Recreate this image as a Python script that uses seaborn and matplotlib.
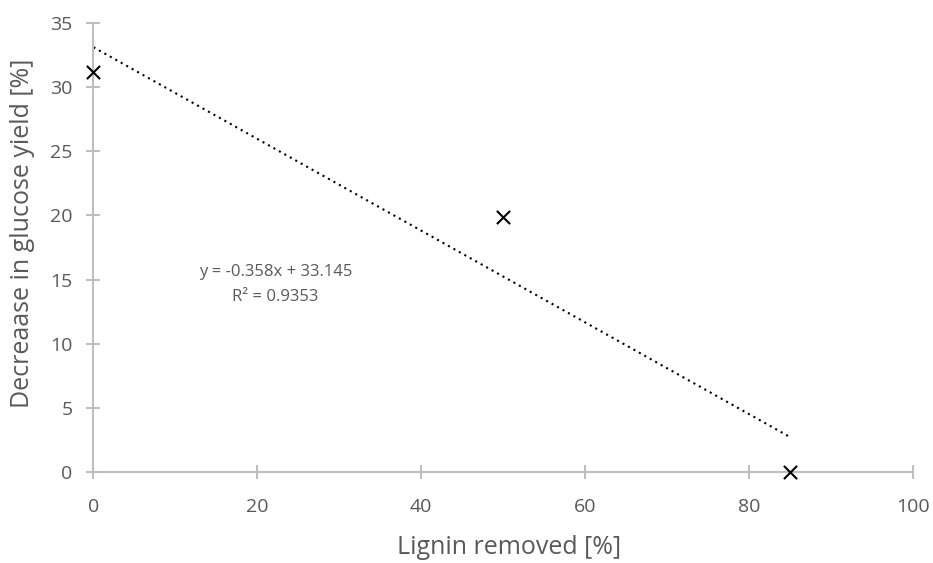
import pandas as pd
import matplotlib
matplotlib.use("Agg")
import matplotlib.pyplot as plt
import seaborn as sns

# Data
lignin_removed = [0, 50, 85]
glucose_decrease = [31.2, 19.9, 0.0]
x_ticks = [0, 20, 40, 60, 80, 100]
y_ticks = [0, 5, 10, 15, 20, 25, 30, 35]

df = pd.DataFrame({"lignin": lignin_removed, "decrease": glucose_decrease})

sns.set_style("white")
plt.rcParams["font.family"] = ["Open Sans", "DejaVu Sans"]

grey = "#595959"
axis_grey = "#BFBFBF"

fig = plt.figure(figsize=(9.33, 5.63), dpi=100)
ax = fig.add_axes([0.1002, 0.1616, 0.878, 0.7974])

# Linear trendline (dotted)
sns.regplot(
    data=df, x="lignin", y="decrease", ax=ax,
    scatter=False, ci=None, truncate=True,
    line_kws={"color": "black", "linestyle": (0, (1, 2)), "linewidth": 1.5},
)

sns.scatterplot(
    data=df, x="lignin", y="decrease", ax=ax,
    marker="x", color="black", s=90, linewidth=1.5, zorder=5, clip_on=False,
)

ax.set_xlim(0, 100)
ax.set_ylim(0, 35)
ax.set_xticks(x_ticks)
ax.set_yticks(y_ticks)

for side in ["top", "right"]:
    ax.spines[side].set_visible(False)
for side in ["left", "bottom"]:
    ax.spines[side].set_color(axis_grey)
    ax.spines[side].set_linewidth(1.5)

ax.tick_params(axis="both", bottom=True, left=True, direction="inout",
               length=10, width=1.5, color=axis_grey, labelcolor=grey,
               labelsize=14)
ax.tick_params(axis="x", pad=14)
ax.tick_params(axis="y", pad=10)

ax.set_xlabel("Lignin removed [%]", fontsize=18, color=grey)
ax.set_ylabel("Decreaase in glucose yield [%]", fontsize=18, color=grey)
ax.xaxis.set_label_coords(0.507, -0.14)
ax.yaxis.set_label_coords(-0.072, 0.532)

ax.text(22.2, 14.6, "y = -0.358x + 33.145\nR² = 0.9353", ha="center", va="center",
        fontsize=12, color=grey, linespacing=1.75)

fig.savefig("out.png", dpi=100)
